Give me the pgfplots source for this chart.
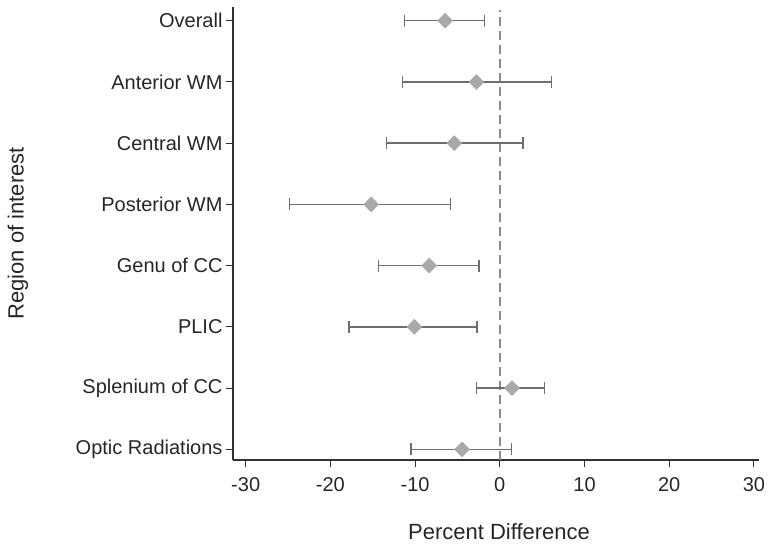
\documentclass[border=0pt]{standalone}
\usepackage{pgfplots}
\pgfplotsset{compat=1.18}
\usepackage{pgfplotstable}
\usepackage{fontspec}
\setmainfont{Liberation Sans}
\definecolor{mkfill}{HTML}{A9A9A9}
\definecolor{whisk}{HTML}{6E6E6E}
\definecolor{refl}{HTML}{8C8C8C}
\definecolor{axc}{HTML}{303030}
\pgfplotstableread{
y x lo hi
8 -6.46 -11.23 -1.79
7 -2.77 -11.50 6.08
6 -5.37 -13.39 2.74
5 -15.19 -24.80 -5.84
4 -8.32 -14.30 -2.45
3 -10.09 -17.79 -2.69
2 1.44 -2.77 5.29
1 -4.46 -10.48 1.36
}\datatab
\begin{document}
\begin{tikzpicture}
\begin{axis}[
  at={(0,0)}, anchor=south west,
  scale only axis, width=526bp, height=453bp,
  xmin=-31.5, xmax=30.6, ymin=0.825, ymax=8.224,
  axis x line*=bottom, axis y line*=left,
  axis line style={axc, line width=1.1pt},
  xtick={-30,-20,-10,0,10,20,30},
  ytick={1,2,3,4,5,6,7,8},
  yticklabels={Optic Radiations,Splenium of CC,PLIC,Genu of CC,Posterior WM,Central WM,Anterior WM,Overall},
  tick align=outside, major tick length=7bp,
  tick style={axc, line width=0.9pt},
  /pgf/number format/assume math mode=true,
  ticklabel style={font=\fontsize{20bp}{23bp}\selectfont, text=black!85},
  xticklabel style={yshift=-7bp},
  xlabel={Percent Difference}, ylabel={Region of interest},
  label style={font=\fontsize{22bp}{26bp}\selectfont, text=black!85},
  xlabel style={at={(rel axis cs:0.5,0)}, anchor=center, yshift=-72bp, xshift=3bp},
  ylabel style={at={(axis description cs:-0.409,0.5)}, anchor=center},
  clip=false,
]
\addplot[refl, line width=1.6pt, dash pattern=on 9bp off 5bp] coordinates {(0,0.825) (0,8.17)};
\addplot[draw=none, mark=none, forget plot,
  error bars/.cd, x dir=both, x explicit,
  error bar style={whisk, line width=1.5pt},
  error mark options={whisk, line width=1.5pt, mark size=6bp, rotate=90}]
  table[x=x, y=y, x error plus expr=\thisrow{hi}-\thisrow{x}, x error minus expr=\thisrow{x}-\thisrow{lo}] {\datatab};
\addplot[only marks, mark=square*, mark size=5.3bp, mark options={rotate=45, fill=mkfill, draw=mkfill}]
  table[x=x, y=y] {\datatab};
\end{axis}
\pgfresetboundingbox
\useasboundingbox (-233bp,-88bp) rectangle (540bp,460bp);
\end{tikzpicture}
\end{document}
